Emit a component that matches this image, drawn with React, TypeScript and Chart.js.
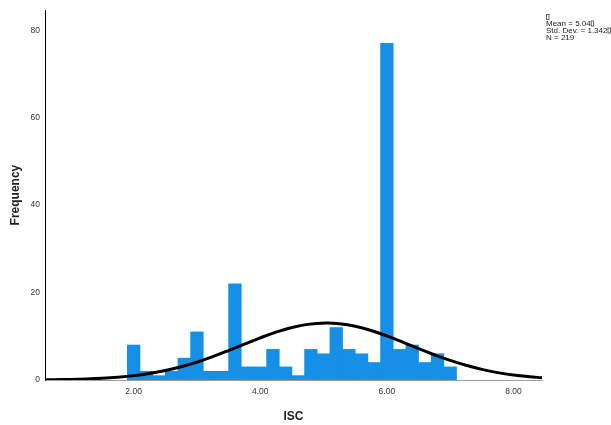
import React, { useEffect, useRef } from "react";
import { Chart, registerables } from "chart.js";

Chart.register(...registerables);

// Histogram bins (bin centers, width 0.2)
const binCenters = [
  2.0, 2.2, 2.4, 2.6, 2.8, 3.0, 3.2, 3.4, 3.6, 3.8, 4.0, 4.2, 4.4,
  4.6, 4.8, 5.0, 5.2, 5.4, 5.6, 5.8, 6.0, 6.2, 6.4, 6.6, 6.8, 7.0,
];
const frequencies = [
  8, 2, 1, 2, 5, 11, 2, 2, 22, 3, 3, 7, 3,
  1, 7, 6, 12, 7, 6, 4, 77, 7, 8, 4, 6, 3,
];

// Normal curve points
const curveX = [
  0.6, 0.75, 1.0, 1.25, 1.5, 1.75, 2.0, 2.25, 2.5, 2.75, 3.0, 3.25, 3.5, 3.75,
  4.0, 4.25, 4.5, 4.75, 5.04, 5.25, 5.5, 5.75, 6.0, 6.25, 6.5, 6.75, 7.0, 7.25,
  7.5, 7.75, 8.0, 8.25, 8.45,
];
const curveY = [
  0.06, 0.08, 0.14, 0.24, 0.4, 0.65, 1.0, 1.5, 2.17, 3.04, 4.1, 5.35, 6.74, 8.2,
  9.64, 10.95, 12.01, 12.72, 13.02, 12.86, 12.28, 11.32, 10.08, 8.67, 7.2, 5.78,
  4.48, 3.36, 2.43, 1.69, 1.14, 0.75, 0.52,
];

const xTicks = [2, 4, 6, 8];
const yTicks = [0, 20, 40, 60, 80];

const statsLines = ["Mean = 5.04", "Std. Dev. = 1.342", "N = 219"];

const FONT = "'Liberation Sans', Arial, sans-serif";

export default function App() {
  const ref = useRef<HTMLCanvasElement | null>(null);

  useEffect(() => {
    if (!ref.current) return;
    const statsPlugin = {
      id: "stats",
      afterDraw(chart: any) {
        const ctx = chart.ctx;
        ctx.save();
        ctx.fillStyle = "#222";
        ctx.font = `8px ${FONT}`;
        ctx.textBaseline = "middle";
        ctx.textAlign = "left";
        const x0 = 546;
        ctx.strokeStyle = "#444";
        ctx.lineWidth = 0.8;
        ctx.strokeRect(x0 + 0.5, 14.5, 2.5, 5);
        const ys = [23.5, 30.5, 37.5];
        statsLines.forEach((t, i) => {
          ctx.fillText(t, x0, ys[i]);
          if (i < 2) {
            const w = ctx.measureText(t).width;
            ctx.strokeRect(x0 + w + 0.5, ys[i] - 2.5, 2.5, 5);
          }
        });
        ctx.restore();
      },
    };

    const chart = new Chart(ref.current, {
      type: "bar",
      data: {
        datasets: [
          {
            type: "line",
            data: curveX.map((x, i) => ({ x, y: curveY[i] })),
            borderColor: "#000",
            borderWidth: 3,
            pointRadius: 0,
            tension: 0.4,
            fill: false,
            order: 0,
          } as any,
          {
            type: "bar",
            data: binCenters.map((x, i) => ({ x, y: frequencies[i] })),
            backgroundColor: "#1690e6",
            borderWidth: 0,
            barPercentage: 1,
            categoryPercentage: 1,
            order: 1,
          } as any,
        ],
      },
      options: {
        responsive: false,
        animation: false,
        events: [],
        layout: { padding: { left: 0, right: 69, top: 7, bottom: 0 } },
        plugins: {
          legend: { display: false },
          tooltip: { enabled: false },
        },
        scales: {
          x: {
            type: "linear",
            min: 0.6,
            max: 8.45,
            offset: false,
            bounds: "ticks",
            grid: { display: false, drawTicks: false, offset: false },
            border: { color: "#a0a0a0", width: 1 },
            afterDataLimits: (scale: any) => {
              scale.min = 0.6;
              scale.max = 8.45;
            },
            afterBuildTicks: (scale: any) => {
              scale.ticks = xTicks.map((v) => ({ value: v }));
            },
            afterFit: (scale: any) => {
              scale.height = 45;
            },
            ticks: {
              padding: 7,
              color: "#333",
              font: { family: FONT, size: 8.5 },
              maxRotation: 0,
              callback: (v: any) => Number(v).toFixed(2),
            },
            title: {
              display: true,
              text: "ISC",
              color: "#222",
              font: { family: FONT, size: 12, weight: "bold" },
              padding: { top: 0, bottom: 1 },
            },
          },
          y: {
            type: "linear",
            min: 0,
            max: 84.6,
            grid: { display: false, drawTicks: false },
            border: { color: "#000", width: 1 },
            afterBuildTicks: (scale: any) => {
              scale.ticks = yTicks.map((v) => ({ value: v }));
            },
            afterFit: (scale: any) => {
              scale.width = 45;
            },
            ticks: {
              padding: 5,
              color: "#333",
              font: { family: FONT, size: 8.5 },
            },
            title: {
              display: true,
              text: "Frequency",
              color: "#222",
              font: { family: FONT, size: 12, weight: "bold" },
              padding: { top: 8, bottom: 0 },
            },
          },
        },
      },
      plugins: [statsPlugin],
    } as any);
    return () => chart.destroy();
  }, []);

  return (
    <div style={{ position: "fixed", left: 0, top: 0, width: 611, height: 425, background: "#fff" }}>
      <canvas ref={ref} width={611} height={425} style={{ display: "block" }} />
    </div>
  );
}
